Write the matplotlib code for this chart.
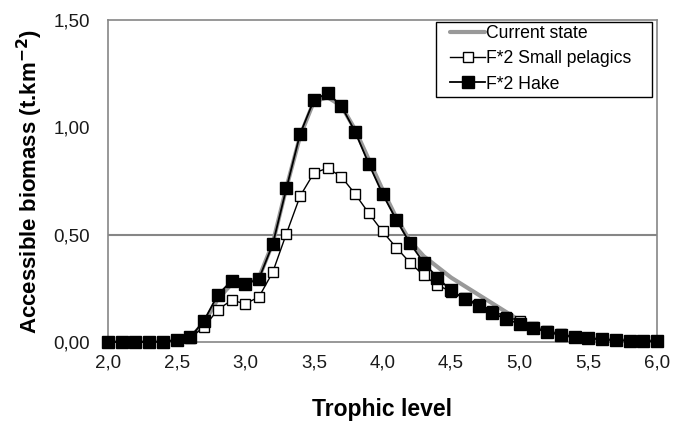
import numpy as np
import matplotlib
matplotlib.use("Agg")
import matplotlib.pyplot as plt
from matplotlib.patches import Rectangle
from matplotlib.ticker import FuncFormatter

plt.rcParams['font.family'] = ['Liberation Sans', 'DejaVu Sans']

# trophic levels 2.0 .. 6.0 step 0.1
trophic = [2.0, 2.1, 2.2, 2.3, 2.4, 2.5, 2.6, 2.7, 2.8, 2.9,
           3.0, 3.1, 3.2, 3.3, 3.4, 3.5, 3.6, 3.7, 3.8, 3.9,
           4.0, 4.1, 4.2, 4.3, 4.4, 4.5, 4.6, 4.7, 4.8, 4.9,
           5.0, 5.1, 5.2, 5.3, 5.4, 5.5, 5.6, 5.7, 5.8, 5.9, 6.0]

current_state = [0.0, 0.0, 0.0, 0.0, 0.002, 0.008, 0.02, 0.09, 0.2, 0.27,
                 0.27, 0.3, 0.46, 0.72, 0.96, 1.12, 1.14, 1.10, 0.99, 0.85,
                 0.71, 0.58, 0.47, 0.40, 0.35, 0.30, 0.26, 0.22, 0.18, 0.14,
                 0.10, 0.072, 0.05, 0.035, 0.025, 0.018, 0.012, 0.009, 0.006, 0.004, 0.003]

small_pelagics = [0.0, 0.0, 0.0, 0.0, 0.002, 0.008, 0.02, 0.07, 0.15, 0.195,
                  0.178, 0.21, 0.325, 0.505, 0.68, 0.787, 0.81, 0.77, 0.69, 0.60,
                  0.515, 0.44, 0.37, 0.31, 0.265, 0.235, 0.205, 0.175, 0.145, 0.118,
                  0.098, 0.07, 0.05, 0.035, 0.024, 0.018, 0.012, 0.009, 0.006, 0.004, 0.003]

hake = [0.0, 0.0, 0.0, 0.0, 0.002, 0.008, 0.022, 0.10, 0.22, 0.285,
        0.27, 0.295, 0.455, 0.716, 0.97, 1.127, 1.16, 1.10, 0.98, 0.83,
        0.69, 0.57, 0.46, 0.37, 0.30, 0.24, 0.20, 0.17, 0.135, 0.107,
        0.084, 0.065, 0.047, 0.033, 0.023, 0.018, 0.012, 0.009, 0.006, 0.004, 0.003]

xticks = [2.0, 2.5, 3.0, 3.5, 4.0, 4.5, 5.0, 5.5, 6.0]
yticks = [0.0, 0.5, 1.0, 1.5]

W, H = 675, 424
fig = plt.figure(figsize=(W / 100, H / 100), dpi=100)
ax = fig.add_axes([108 / W, 1 - 342 / H, (657 - 108) / W, (342 - 20) / H])

frame_gray = '#868686'
ax.axhline(0.5, color=frame_gray, lw=1.5, zorder=1)

ax.plot(trophic, current_state, color='#999999', lw=3.0, label='Current state',
        zorder=2, solid_capstyle='round')
ax.plot(trophic, small_pelagics, color='black', lw=1.0, marker='s', ms=7.5,
        mfc='white', mec='black', mew=1.0, label='F*2 Small pelagics',
        zorder=3, clip_on=False)
ax.plot(trophic, hake, color='black', lw=1.3, marker='s', ms=8,
        mfc='black', mec='black', label='F*2 Hake', zorder=4, clip_on=False)

ax.set_xlim(2.0, 6.0)
ax.set_ylim(0.0, 1.5)
ax.set_xticks(xticks)
ax.set_yticks(yticks)
ax.xaxis.set_major_formatter(FuncFormatter(lambda v, p: f"{v:.1f}".replace('.', ',')))
ax.yaxis.set_major_formatter(FuncFormatter(lambda v, p: f"{v:.2f}".replace('.', ',')))
ax.tick_params(axis='both', length=0, labelsize=13.5, colors='#1a1a1a')
ax.tick_params(axis='x', pad=9)
ax.tick_params(axis='y', pad=13)

for s in ax.spines.values():
    s.set_color(frame_gray)
    s.set_linewidth(1.2)

ax.set_xlabel('Trophic level', fontsize=16.5, fontweight='bold', labelpad=19)
ax.set_ylabel('Accessible biomass (t.km$^{\\mathbf{-2}}$)', fontsize=16,
              fontweight='bold', labelpad=6)

# legend box drawn separately so it can match the original size
ax.add_patch(Rectangle((436 / W, 1 - 97 / H), (652 - 436) / W, (97 - 22) / H,
                       transform=fig.transFigure, fill=True, fc='white',
                       ec='black', lw=1.0, zorder=5, clip_on=False))
leg = ax.legend(loc='upper left', bbox_to_anchor=(450 / W, 1 - 25 / H),
                bbox_transform=fig.transFigure, fontsize=12.7, frameon=False,
                handlelength=2.0, handletextpad=0.05, borderpad=0,
                labelspacing=0.47, borderaxespad=0)
leg.set_zorder(6)

fig.savefig('out.png', dpi=100)
